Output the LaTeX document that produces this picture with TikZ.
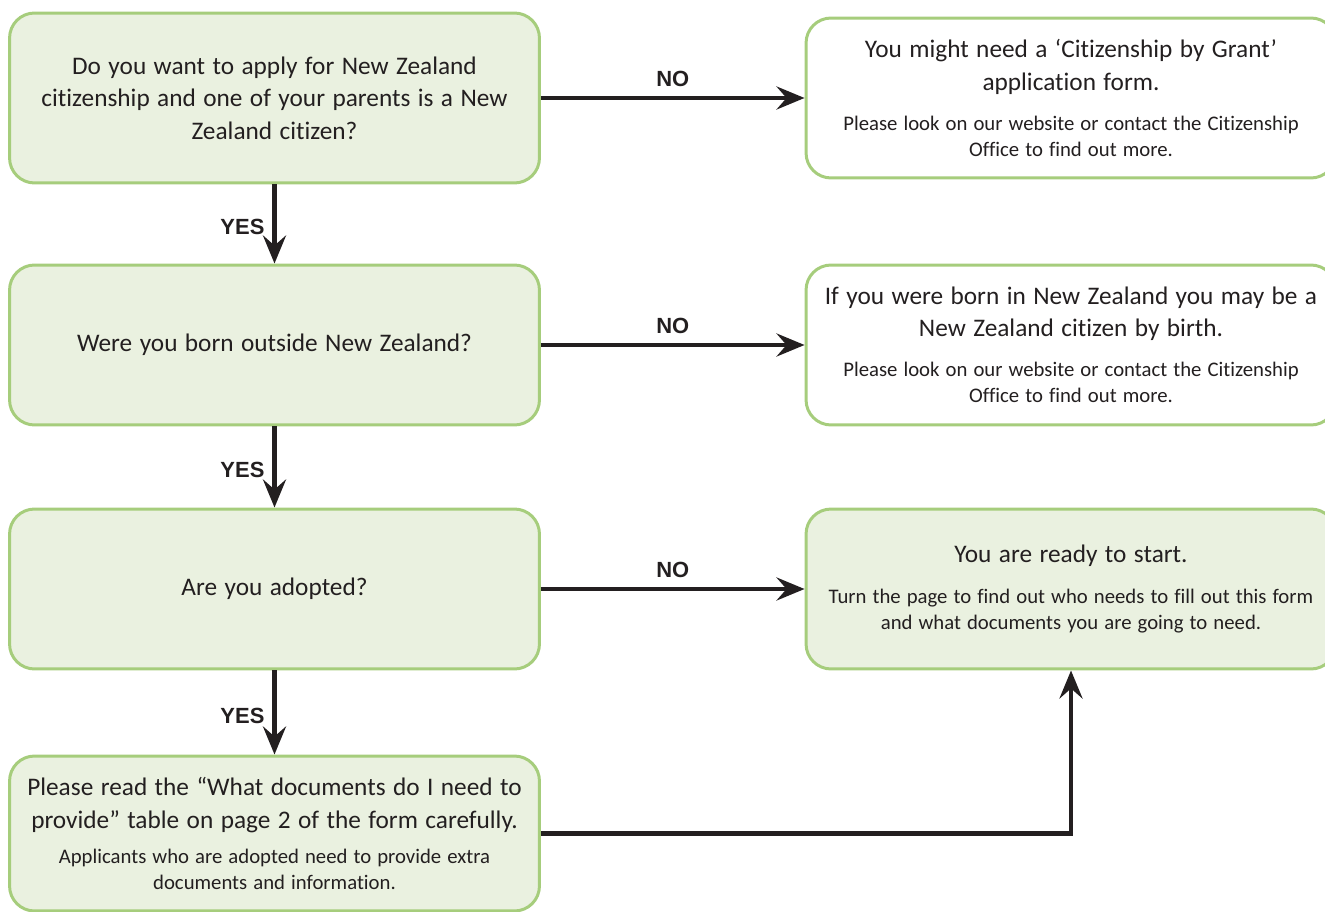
\documentclass[tikz,border=0pt]{standalone}
\usepackage{fontspec}
\setmainfont{Carlito}[Ligatures={NoCommon}, WordSpace=1.3]
\newfontfamily\answerfont{Liberation Sans}
\usetikzlibrary{arrows.meta}
\definecolor{boxgreen}{HTML}{EAF1E0}
\definecolor{boxline}{HTML}{A6CD7C}
\definecolor{ink}{HTML}{231F20}
\newcommand{\subtext}[2][8pt]{\par\vspace{#1}{\fontsize{11.8}{14.8}\selectfont #2\par}}

\begin{document}
\begin{tikzpicture}[x=0.02cm, y=-0.02cm,
  box/.style={draw=boxline, line width=1.7pt, rounded corners=0.5cm,
    minimum width=10.6cm, minimum height=3.2cm, text width=10.45cm,
    align=flush center, text=ink, inner sep=0pt,
    font=\fontsize{14.4}{18.4}\selectfont},
  greenbox/.style={box, fill=boxgreen},
  whitebox/.style={box, fill=white},
  flow/.style={line width=2.8pt, draw=ink,
    -{Stealth[length=0.56cm, width=0.46cm, inset=0.2cm]}},
  answer/.style={font=\answerfont\bfseries\fontsize{12.5}{14}\selectfont, text=ink}]
  \useasboundingbox (0,0) rectangle (1325,912);
  \clip (0,0) rectangle (1325,912);
  % Fragen links
  \node[greenbox, minimum height=3.4cm] (born) at (274.5,98)
    {Do you want to apply for New Zealand\\
     citizenship and one of your parents is a New\\
     Zealand citizen?};
  \node[greenbox] (outside) at (274.5,345) {Were you born outside New Zealand?};
  \node[greenbox] (adopted) at (274.5,589) {Are you adopted?};
  \node[greenbox, minimum height=3.1cm] (read) at (274.5,833.5)
    {Please read the “What documents do I need to\\
     provide” table on page 2 of the form carefully.
     \subtext[5pt]{Applicants who are adopted need to provide extra\\
     documents and information.}};
  % Antworten rechts
  \node[whitebox] (grant) at (1071,98)
    {You might need a ‘Citizenship by Grant’\\ application form.
     \subtext{Please look on our website or contact the Citizenship\\
     Office to find out more.}};
  \node[whitebox] (birth) at (1071,345)
    {If you were born in New Zealand you may be a\\
     New Zealand citizen by birth.
     \subtext{Please look on our website or contact the Citizenship\\
     Office to find out more.}};
  \node[greenbox] (start) at (1071,589)
    {You are ready to start.
     \subtext{Turn the page to find out who needs to fill out this form\\
     and what documents you are going to need.}};
  % Pfeile NO
  \draw[flow] (born) -- (grant) node[midway, above=1.5pt, answer] {NO};
  \draw[flow] (outside) -- (birth) node[midway, above=1.5pt, answer] {NO};
  \draw[flow] (adopted) -- (start) node[midway, above=1.5pt, answer] {NO};
  % Pfeile YES
  \draw[flow] (born) -- (outside) node[pos=0.54, left=1pt, answer] {YES};
  \draw[flow] (outside) -- (adopted) node[pos=0.54, left=1pt, answer] {YES};
  \draw[flow] (adopted) -- (read) node[pos=0.54, left=1pt, answer] {YES};
  % Rueckweg
  \draw[flow] (read.east) -| (start.south);
\end{tikzpicture}
\end{document}
